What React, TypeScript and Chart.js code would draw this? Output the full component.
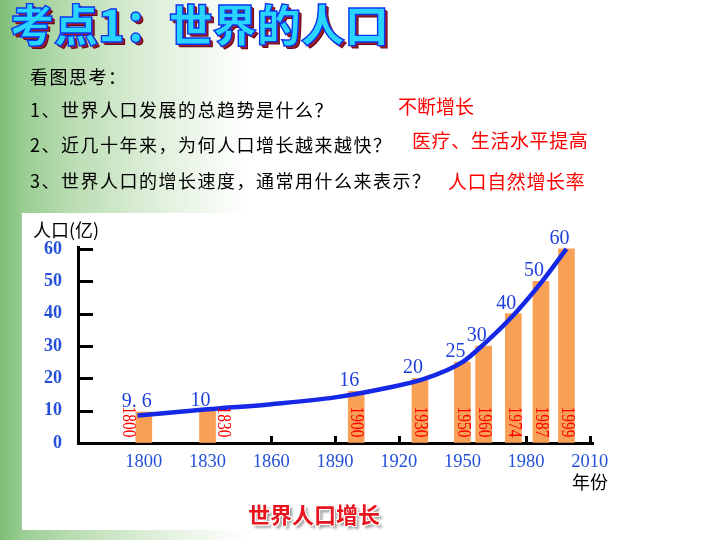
import React, { useEffect, useRef } from "react";
import { Chart, registerables } from "chart.js";

Chart.register(...registerables);

// ---- data ----
const barYears = [1800, 1830, 1900, 1930, 1950, 1960, 1974, 1987, 1999];
const barValues = [9.6, 10, 16, 20, 25, 30, 40, 50, 60];
const barYearLabels = ["1800", "1830", "1900", "1930", "1950", "1960", "1974", "1987", "1999"];
const curveYears = [1797, 1830, 1860, 1890, 1912, 1932, 1950, 1960, 1974, 1987, 1999];
const curveValues = [8.5, 10.4, 12.0, 14.1, 16.7, 19.8, 25, 30.5, 39.5, 49.5, 60];
const xTickValues = [1800, 1830, 1860, 1890, 1920, 1950, 1980, 2010];
const yTickValues = [0, 10, 20, 30, 40, 50, 60];

// which side of its bar each year label sits on (-1 left, 1 right, 0 inside)
const yearLabelSide = [-1, 1, 0, 0, 0, 0, 0, 0, 0];

const SERIF = '"Liberation Serif", "Times New Roman", serif';
const CJK = '"Noto Sans CJK SC", "Noto Sans", sans-serif';
const BLUE = "#2450d8";

const fmtValue = (v: number) =>
  Number.isInteger(v) ? String(v) : String(v).replace(".", ". ");

const annotatePlugin = {
  id: "annotate",
  beforeDatasetsDraw(chart: any) {
    const ctx = chart.ctx;
    const xs = chart.scales.x;
    const ys = chart.scales.y;
    ctx.save();
    ctx.strokeStyle = "#000";
    ctx.lineWidth = 3;
    yTickValues.forEach((v) => {
      if (v === 0) return;
      const py = Math.round(ys.getPixelForValue(v)) + 0.5;
      ctx.beginPath();
      ctx.moveTo(xs.left, py);
      ctx.lineTo(xs.left + 15, py);
      ctx.stroke();
    });
    xTickValues.forEach((v) => {
      const px = Math.round(xs.getPixelForValue(v)) + 0.5;
      ctx.beginPath();
      ctx.moveTo(px, ys.bottom);
      ctx.lineTo(px, ys.bottom - 7);
      ctx.stroke();
    });
    ctx.restore();
  },
  afterDatasetsDraw(chart: any) {
    const ctx = chart.ctx;
    const ys = chart.scales.y;
    const meta = chart.getDatasetMeta(1);
    meta.data.forEach((bar: any, i: number) => {
      const p = bar.getProps(["x", "y", "width"], true);
      ctx.save();
      ctx.fillStyle = "#1f3fdc";
      ctx.font = `20px ${SERIF}`;
      ctx.textAlign = "center";
      ctx.textBaseline = "alphabetic";
      ctx.fillText(fmtValue(barValues[i]), p.x - 7, p.y - 5);
      ctx.restore();

      const side = yearLabelSide[i];
      const lx = side < 0 ? p.x - p.width / 2 - 8 : side > 0 ? p.x + p.width / 2 + 7 : p.x;
      const ly = ys.bottom - 21;
      ctx.save();
      ctx.translate(lx, ly);
      ctx.rotate(Math.PI / 2);
      ctx.scale(0.86, 1);
      ctx.fillStyle = "#ff0000";
      ctx.font = `18px ${SERIF}`;
      ctx.textAlign = "center";
      ctx.textBaseline = "middle";
      ctx.fillText(barYearLabels[i], 0, 0);
      ctx.restore();
    });
  },
};

function T(props: {
  x: number;
  cy: number;
  size: number;
  color?: string;
  weight?: number | string;
  ls?: number;
  style?: React.CSSProperties;
  children: React.ReactNode;
}) {
  const { x, cy, size, color = "#000", weight = 400, ls = 0, style, children } = props;
  return (
    <div
      style={{
        position: "absolute",
        left: x,
        top: Math.round(cy - size * 0.55),
        fontSize: size,
        lineHeight: 1,
        fontFamily: CJK,
        fontWeight: weight as any,
        color,
        letterSpacing: ls,
        whiteSpace: "nowrap",
        zIndex: 3,
        ...style,
      }}
    >
      {children}
    </div>
  );
}

export default function App() {
  const ref = useRef<HTMLCanvasElement>(null);

  useEffect(() => {
    if (!ref.current) return;
    const chart = new Chart(ref.current, {
      type: "bar",
      data: {
        datasets: [
          {
            type: "line",
            data: curveYears.map((yr, i) => ({ x: yr, y: curveValues[i] })),
            borderColor: "#1428e6",
            borderWidth: 4.5,
            pointRadius: 0,
            tension: 0.4,
            cubicInterpolationMode: "monotone",
            fill: false,
            order: 0,
          } as any,
          {
            type: "bar",
            data: barYears.map((yr, i) => ({ x: yr, y: barValues[i] })),
            backgroundColor: "#f8a056",
            borderWidth: 0,
            barThickness: 16,
            order: 1,
          } as any,
        ],
      },
      options: {
        responsive: false,
        animation: false,
        devicePixelRatio: 1,
        layout: { padding: { left: 0, top: 247, right: 127, bottom: 0 } },
        plugins: {
          legend: { display: false },
          tooltip: { enabled: false },
          title: { display: false },
        },
        scales: {
          x: {
            type: "linear",
            min: 1769,
            max: 2011.5,
            offset: false,
            afterBuildTicks: (s: any) => {
              s.ticks = xTickValues.map((v) => ({ value: v }));
            },
            afterFit: (s: any) => {
              s.height = 97;
            },
            grid: { display: true, drawOnChartArea: false, drawTicks: false, offset: false },
            border: { display: true, color: "#000", width: 3 },
            ticks: {
              color: BLUE,
              font: { family: SERIF, size: 18.5 },
              padding: 8,
              maxRotation: 0,
              autoSkip: false,
              callback: (v: any) => String(v),
            },
          },
          y: {
            type: "linear",
            min: 0,
            max: 60.6,
            afterBuildTicks: (s: any) => {
              s.ticks = yTickValues.map((v) => ({ value: v }));
            },
            afterFit: (s: any) => {
              s.width = 78;
            },
            grid: { display: true, drawOnChartArea: false, drawTicks: false },
            border: { display: true, color: "#000", width: 3 },
            ticks: {
              color: BLUE,
              font: { family: SERIF, size: 18, weight: "bold" },
              padding: 16,
              autoSkip: false,
              callback: (v: any) => String(v),
            },
          },
        } as any,
      },
      plugins: [annotatePlugin as any],
    });
    return () => chart.destroy();
  }, []);

  return (
    <div
      style={{
        position: "absolute",
        left: 0,
        top: 0,
        width: 720,
        height: 540,
        overflow: "hidden",
        background:
          "linear-gradient(to right, #7dbd76 0px, #98cd91 22px, #b9dcb2 70px, #d8ecd3 140px, #f3f9f1 210px, #ffffff 250px)",
      }}
    >
      <div
        style={{
          position: "absolute",
          left: 22,
          top: 213,
          width: 620,
          height: 317,
          background: "#ffffff",
          zIndex: 1,
        }}
      />
      <canvas
        ref={ref}
        width={720}
        height={540}
        style={{ position: "absolute", left: 0, top: 0, width: 720, height: 540, zIndex: 2 }}
      />
      <T
        x={10}
        cy={25}
        size={44}
        weight={900}
        color="#2ad4ff"
        style={{
          WebkitTextStroke: "1.4px #0a36f0",
          textShadow: "2px 2px 0 #a01828, 3px 3px 0 #6a0a1a",
        }}
      >
        考点1：世界的人口
      </T>
      <T x={30} cy={77} size={18} ls={1.5}>看图思考：</T>
      <T x={30} cy={110} size={18} ls={1.5}>1、世界人口发展的总趋势是什么？</T>
      <T x={30} cy={145} size={18} ls={1.5}>2、近几十年来，为何人口增长越来越快？</T>
      <T x={30} cy={181} size={18} ls={1.5}>3、世界人口的增长速度，通常用什么来表示？</T>
      <T x={398} cy={106} size={19} color="#ff0000">不断增长</T>
      <T x={412} cy={140} size={19} ls={0.6} color="#ff0000">医疗、生活水平提高</T>
      <T x={448} cy={181} size={19} ls={0.6} color="#ff0000">人口自然增长率</T>
      <T x={33} cy={230} size={18}>人口(亿)</T>
      <T x={572} cy={482} size={18}>年份</T>
      <T
        x={248}
        cy={514}
        size={22}
        weight={700}
        color="#e8141e"
        style={{
          textShadow:
            "-1px -1px 0 #fff, 1px -1px 0 #fff, -1px 1px 0 #fff, 1px 1px 0 #fff, 3px 3px 3px rgba(0,0,0,0.45)",
        }}
      >
        世界人口增长
      </T>
    </div>
  );
}
